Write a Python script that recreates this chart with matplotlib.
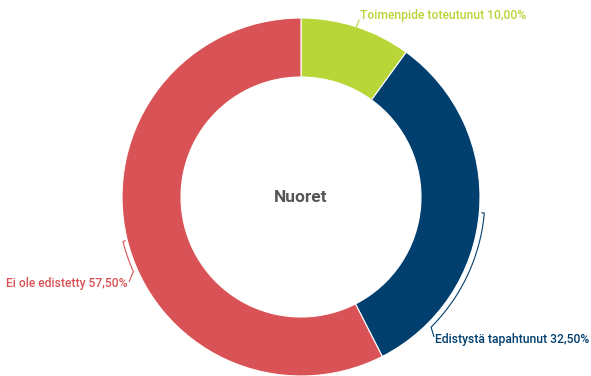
import numpy as np
import matplotlib
matplotlib.use("Agg")
import matplotlib.pyplot as plt

plt.rcParams['font.family'] = ['Roboto', 'DejaVu Sans']

categories = ["Toimenpide toteutunut", "Edistystä tapahtunut", "Ei ole edistetty"]
values = [10.00, 32.50, 57.50]
colors = ["#b8d637", "#003f6e", "#d95356"]
title = "Nuoret"

W, H = 591, 376
cx, cy = 301, H - 197
r_out, r_in = 179, 120

fig = plt.figure(figsize=(W / 100, H / 100), dpi=100)
ax = fig.add_axes([0, 0, 1, 1])
ax.pie(values, colors=colors, startangle=90, counterclock=False,
       center=(cx, cy), radius=r_out,
       wedgeprops=dict(width=r_out - r_in, edgecolor="white", linewidth=0.8))
ax.set_xlim(0, W)
ax.set_ylim(0, H)
ax.set_aspect("equal")
ax.axis("off")

ax.text(cx, cy, title, ha="center", va="center", fontsize=12.5,
        fontweight="bold", color="#555555")


def pt(angle, r):
    a = np.radians(angle)
    return cx + r * np.cos(a), cy + r * np.sin(a)


def bracket(a0, a1, r, end, color):
    # arc along the slice edge with a small inward tick and a leader to the label
    t = np.linspace(a0, a1, 40)
    xs, ys = pt(t, r)
    x0, y0 = pt(a0, r - 3)
    xs = np.concatenate([[x0], xs, [end[0]]])
    ys = np.concatenate([[y0], ys, [H - end[1]]])
    ax.plot(xs, ys, color=color, linewidth=0.8, solid_capstyle="butt")


def label(i):
    return f"{categories[i]} {values[i]:.2f}%".replace(".", ",")


fs = 8.7

# green label: short leader only
ax.plot([356, 359], [H - 28, H - 20], color=colors[0], linewidth=0.8)
ax.text(360, H - 16, label(0), ha="left", va="center", fontsize=fs,
        fontweight="medium", color=colors[0])

# blue label
bracket(-5, -45, 184, (434, 337), colors[1])
ax.text(435, H - 340, label(1), ha="left", va="center", fontsize=fs,
        fontweight="medium", color=colors[1])

# red label
bracket(194, 204, 183.5, (129, 282), colors[2])
ax.text(128, H - 283, label(2), ha="right", va="center", fontsize=fs,
        fontweight="medium", color=colors[2])

fig.savefig("out.png", dpi=100)
